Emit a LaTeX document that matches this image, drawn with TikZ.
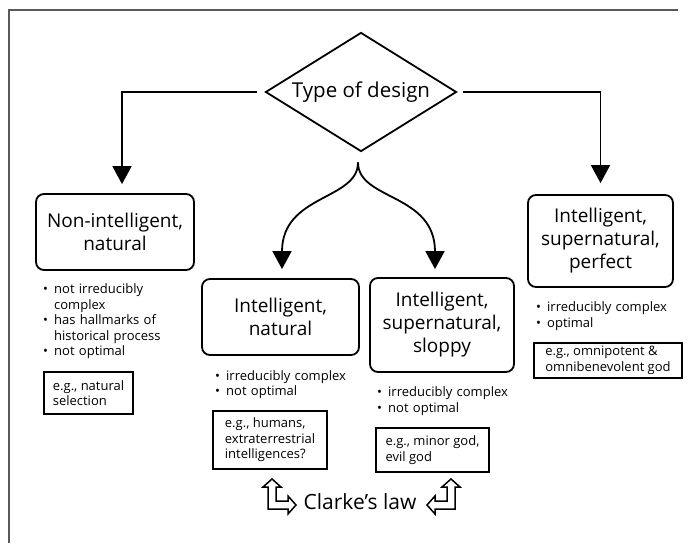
\documentclass[tikz,border=0pt]{standalone}
\usepackage{fontspec}
\setmainfont{Open Sans}
\usetikzlibrary{shapes.geometric,arrows.meta}
\tikzset{
	bigtext/.style={font=\fontsize{19}{23}\selectfont},
	typebox/.style={draw, line width=1.8pt, rounded corners=8pt, align=center, bigtext, inner sep=0pt},
	pointlist/.style={font=\fontsize{13}{15.5}\selectfont, align=left, inner sep=0pt, anchor=base west, text width=150pt},
	egbox/.style={draw, line width=1.3pt, font=\fontsize{13}{15.5}\selectfont, align=left, inner sep=0pt},
	link/.style={line width=1.8pt, -{Triangle[length=18pt,width=19pt]}},
	hollow/.style={line width=1.5pt, line join=miter},
	frame/.style={line width=1.5pt, draw=black!65},
}
\newcommand{\bul}{\makebox[11pt][l]{\textbullet}}
\newcommand{\ind}{\hspace*{11pt}}
% bent double arrow, top tip at the origin
\newcommand{\clarkearrow}{(0,0) -- (9,8) -- (4,8) -- (4,22) -- (16,22) -- (16,17) -- (24,26) -- (16,35) -- (16,30) -- (-4,30) -- (-4,8) -- (-9,8) -- cycle}
\begin{document}
\begin{tikzpicture}[x=1pt,y=-1pt]
	\useasboundingbox (0,0) rectangle (698,543);
	% frame
	\draw[frame] (9,543) -- (9,10) -- (678,10);
	% the question
	\node[draw, diamond, aspect=1.6, line width=1.8pt, minimum width=191pt, minimum height=119pt, inner sep=0pt, font=\fontsize{20.5}{24}\selectfont] (design) at (361,92) {Type of design};
	% the four kinds of design
	\node[typebox, minimum width=158pt, minimum height=76pt] (nonnat) at (115,232) {Non-intelligent,\\natural};
	\node[typebox, minimum width=157pt, minimum height=76pt] (intnat) at (280.5,317) {Intelligent,\\natural};
	\node[typebox, minimum width=144pt, minimum height=94pt] (sloppy) at (442,325) {Intelligent,\\supernatural,\\sloppy};
	\node[typebox, minimum width=145pt, minimum height=92pt] (perfect) at (600.5,241) {Intelligent,\\supernatural,\\perfect};
	% outer branches
	\draw[link, shorten <=8pt, shorten >=9pt] (design.west) -| ([xshift=7pt]nonnat.north);
	\draw[link, shorten <=6pt, shorten >=11pt] (design.east) -| (perfect.north);
	% inner branches
	\coordinate (fork) at ([xshift=-3pt,yshift=-10pt]design.south);
	\draw[link, shorten >=9pt] (fork) .. controls +(0,38) and +(0,-84) .. ([xshift=1.5pt]intnat.north);
	\draw[link, shorten >=8pt] (fork) .. controls +(0,38) and +(0,-84) .. ([xshift=-7pt]sloppy.north);
	% properties
	\node[pointlist] (nonnatlist) at (43,293.5) {\bul not irreducibly\\\ind complex\\\bul has hallmarks of\\\ind historical process\\\bul not optimal};
	\node[pointlist] (intnatlist) at (215,380) {\bul irreducibly complex\\\bul not optimal};
	\node[pointlist] (sloppylist) at (377,396.5) {\bul irreducibly complex\\\bul not optimal};
	\node[pointlist] (perfectlist) at (536,311.5) {\bul irreducibly complex\\\bul optimal};
	% examples
	\node[egbox, minimum width=89pt, minimum height=42pt] (nonnateg) at (88.5,393) {e.g., natural\\selection};
	\node[egbox, minimum width=114pt, minimum height=58pt] (intnateg) at (270,440) {e.g., humans,\\extraterrestrial\\intelligences?};
	\node[egbox, minimum width=113pt, minimum height=44pt] (sloppyeg) at (432.5,450) {e.g., minor god,\\evil god};
	\node[egbox, minimum width=148pt, minimum height=35pt] (perfecteg) at (608,360.5) {e.g., omnipotent \&\\omnibenevolent god};
	% Clarke's law
	\node[font=\fontsize{21}{25}\selectfont, inner sep=0pt] (law) at (360,502) {Clarke's law};
	\begin{scope}[shift={(272,479)}]
		\draw[hollow] \clarkearrow;
	\end{scope}
	\begin{scope}[shift={(451,479)}, xscale=-1]
		\draw[hollow] \clarkearrow;
	\end{scope}
\end{tikzpicture}
\end{document}
